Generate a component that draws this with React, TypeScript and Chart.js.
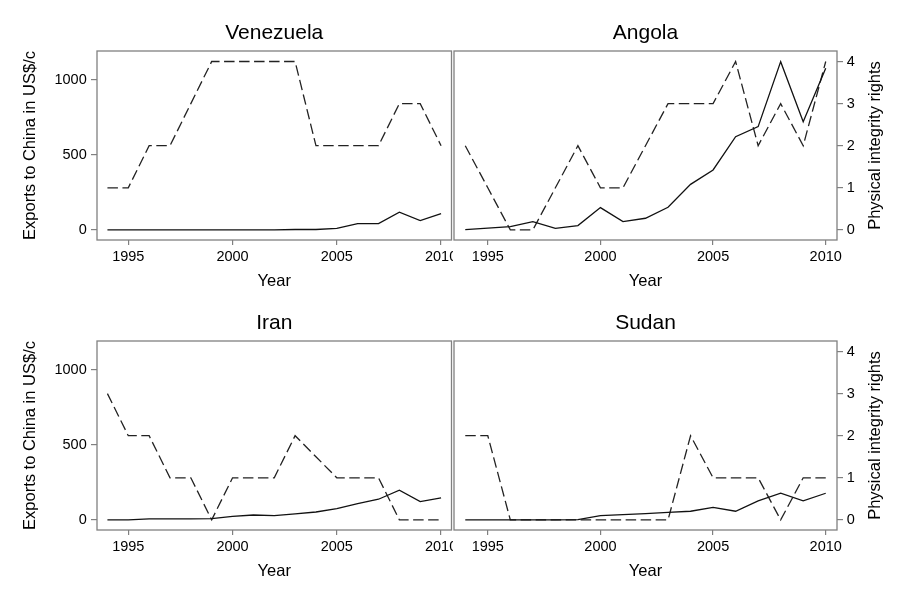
import { useEffect, useRef } from "react";
import Chart from "chart.js/auto";

const FONT = "'Liberation Sans', Arial, Helvetica, sans-serif";
const GRAY = "#808080";

const years = [
  1994, 1995, 1996, 1997, 1998, 1999, 2000, 2001, 2002, 2003, 2004, 2005,
  2006, 2007, 2008, 2009, 2010,
];
const xTicks = [1995, 2000, 2005, 2010];
const exportTicks = [0, 500, 1000];
const rightsTicks = [0, 1, 2, 3, 4];

const X_TITLE = "Year";
const LEFT_TITLE = "Exports to China in US$/c";
const RIGHT_TITLE = "Physical integrity rights";

// solid line, left axis
const venezuelaExports = [0, 0, 0, 0, 0, 0, 0, 0, 0, 3, 3, 11, 42, 42, 118, 62, 109];
const angolaExports = [2, 12, 22, 56, 11, 29, 149, 56, 78, 151, 304, 400, 622, 689, 1122, 722, 1078];
const iranExports = [0, 1, 7, 7, 7, 9, 24, 33, 29, 40, 53, 76, 109, 138, 198, 122, 147];
const sudanExports = [0, 0, 0, 0, 0, 2, 29, 36, 42, 51, 58, 84, 58, 127, 178, 127, 178];

// dashed line, right axis
const venezuelaRights = [1, 1, 2, 2, 3, 4, 4, 4, 4, 4, 2, 2, 2, 2, 3, 3, 2];
const angolaRights = [2, 1, 0, 0, 1, 2, 1, 1, 2, 3, 3, 3, 4, 2, 3, 2, 4];
const iranRights = [3, 2, 2, 1, 1, 0, 1, 1, 1, 2, 1.5, 1, 1, 1, 0, 0, 0];
const sudanRights = [2, 2, 0, 0, 0, 0, 0, 0, 0, 0, 2, 1, 1, 1, 0, 1, 1];

Chart.defaults.font.family = FONT;

const toPoints = (vals: number[]) => years.map((yr, i) => ({ x: yr, y: vals[i] }));

const boxPlugin = {
  id: "panelBox",
  afterDatasetsDraw(chart: any) {
    const { ctx, chartArea: a } = chart;
    ctx.save();
    ctx.strokeStyle = GRAY;
    ctx.lineWidth = 1.3;
    ctx.strokeRect(a.left, a.top, a.right - a.left, a.bottom - a.top);
    ctx.restore();
  },
};

// right axis title reads bottom-to-top like the left one
const rightTitlePlugin = {
  id: "rightTitle",
  afterDraw(chart: any) {
    const s = chart.scales.y1;
    if (!s || !s.options.display) return;
    const ctx = chart.ctx;
    ctx.save();
    ctx.translate(s.right - 32.2, (s.top + s.bottom) / 2);
    ctx.rotate(-Math.PI / 2);
    ctx.font = `16.5px ${FONT}`;
    ctx.fillStyle = "#000";
    ctx.textAlign = "center";
    ctx.textBaseline = "middle";
    ctx.fillText(RIGHT_TITLE, 0, 0);
    ctx.restore();
  },
};

const noPad = (s: any) => {
  s.paddingLeft = 0;
  s.paddingRight = 0;
  s.paddingTop = 0;
  s.paddingBottom = 0;
};

type PanelProps = {
  title: string;
  exports: number[];
  rights: number[];
  side: "left" | "right";
  row: "top" | "bottom";
};

const Panel = ({ title, exports, rights, side, row }: PanelProps) => {
  const chartRef = useRef<HTMLCanvasElement>(null);
  const isLeft = side === "left";
  const isTop = row === "top";
  const width = isLeft ? 453 : 456;
  const height = isTop ? 300 : 307;

  useEffect(() => {
    if (!chartRef.current) return;
    const chart = new Chart(chartRef.current, {
      type: "line",
      data: {
        datasets: [
          {
            label: "Exports",
            data: toPoints(exports),
            yAxisID: "y",
            borderColor: "#111",
            borderWidth: 1.3,
            pointRadius: 0,
            tension: 0,
          },
          {
            label: "Rights",
            data: toPoints(rights),
            yAxisID: "y1",
            borderColor: "#222",
            borderWidth: 1.3,
            borderDash: [10.5, 4.5],
            pointRadius: 0,
            tension: 0,
          },
        ],
      },
      options: {
        animation: false,
        responsive: true,
        maintainAspectRatio: false,
        layout: {
          autoPadding: false,
          padding: { left: isLeft ? 0 : 2, right: isLeft ? 1.5 : 0, top: 0, bottom: 0 },
        },
        plugins: {
          legend: { display: false },
          tooltip: { enabled: false },
          title: {
            display: true,
            text: title,
            fullSize: false,
            color: "#000",
            font: { size: 21, weight: "normal" },
            padding: { top: isTop ? 20.4 : 10.4, bottom: 5.4 },
          },
        },
        scales: {
          x: {
            type: "linear",
            min: 1993.5,
            max: 2010.5,
            afterBuildTicks: (s: any) => {
              s.ticks = xTicks.map((v) => ({ value: v }));
            },
            afterFit: (s: any) => {
              s.height = isTop ? 60 : 77;
              noPad(s);
            },
            grid: { drawOnChartArea: false, tickLength: 5, color: GRAY, lineWidth: 1.2 },
            border: { display: false },
            ticks: {
              color: "#000",
              padding: 3.3,
              font: { size: 14.5 },
              maxRotation: 0,
              autoSkip: false,
              callback: (v: any) => String(v),
            },
            title: {
              display: true,
              text: X_TITLE,
              color: "#000",
              font: { size: 16.5 },
              padding: { top: 0, bottom: isTop ? 9.1 : 25.4 },
            },
          },
          y: {
            type: "linear",
            position: "left",
            display: isLeft,
            min: -67,
            max: 1193,
            afterBuildTicks: (s: any) => {
              s.ticks = exportTicks.map((v) => ({ value: v }));
            },
            afterFit: (s: any) => {
              s.width = isLeft ? 97 : 0;
              noPad(s);
            },
            grid: { drawOnChartArea: false, tickLength: 6, color: GRAY, lineWidth: 1.2 },
            border: { display: false },
            ticks: {
              color: "#000",
              padding: 4.3,
              font: { size: 14.5 },
              callback: (v: any) => String(v),
            },
            title: {
              display: true,
              text: LEFT_TITLE,
              color: "#000",
              font: { size: 16.5 },
              padding: { top: 20.1, bottom: 0 },
            },
          },
          y1: {
            type: "linear",
            position: "right",
            display: !isLeft,
            min: -0.24,
            max: 4.25,
            afterBuildTicks: (s: any) => {
              s.ticks = rightsTicks.map((v) => ({ value: v }));
            },
            afterFit: (s: any) => {
              s.width = isLeft ? 0 : 71;
              noPad(s);
            },
            grid: { drawOnChartArea: false, tickLength: 6, color: GRAY, lineWidth: 1.2 },
            border: { display: false },
            ticks: {
              color: "#000",
              padding: 3.7,
              font: { size: 14.5 },
              callback: (v: any) => String(v),
            },
            title: { display: false },
          },
        },
      },
      plugins: [boxPlugin, rightTitlePlugin],
    });

    return () => {
      chart.destroy();
    };
  }, [title, exports, rights, isLeft, isTop]);

  return (
    <div
      style={{
        position: "absolute",
        left: isLeft ? 0 : 452,
        top: isTop ? 0 : 300,
        width: `${width}px`,
        height: `${height}px`,
      }}
    >
      <canvas ref={chartRef} />
    </div>
  );
};

const App = () => (
  <div
    style={{
      position: "fixed",
      left: 0,
      top: 0,
      width: "908px",
      height: "607px",
      background: "#fff",
      overflow: "hidden",
    }}
  >
    <Panel title="Venezuela" exports={venezuelaExports} rights={venezuelaRights} side="left" row="top" />
    <Panel title="Angola" exports={angolaExports} rights={angolaRights} side="right" row="top" />
    <Panel title="Iran" exports={iranExports} rights={iranRights} side="left" row="bottom" />
    <Panel title="Sudan" exports={sudanExports} rights={sudanRights} side="right" row="bottom" />
  </div>
);

export default App;
